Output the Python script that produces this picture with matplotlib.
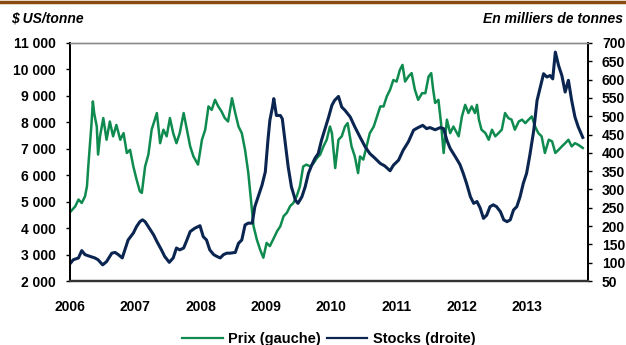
import matplotlib
matplotlib.use("Agg")
import matplotlib.pyplot as plt
from matplotlib.lines import Line2D
from matplotlib.ticker import FuncFormatter

plt.rcParams["font.family"] = ["Liberation Sans", "DejaVu Sans"]
plt.rcParams["font.weight"] = "bold"

# prix du cuivre, $ US/tonne (axe gauche)
prix_t = [
    2006.00, 2006.08, 2006.13, 2006.18, 2006.23, 2006.26, 2006.28, 2006.31, 2006.33, 2006.35,
    2006.37, 2006.41, 2006.43, 2006.46, 2006.51, 2006.56, 2006.61, 2006.66, 2006.71, 2006.77,
    2006.82, 2006.87, 2006.92, 2006.97, 2007.02, 2007.07, 2007.10, 2007.15, 2007.20, 2007.25,
    2007.33, 2007.38, 2007.43, 2007.48, 2007.53, 2007.58, 2007.63, 2007.68, 2007.74, 2007.79,
    2007.84, 2007.89, 2007.96, 2008.02, 2008.07, 2008.12, 2008.17, 2008.22, 2008.27, 2008.32,
    2008.37, 2008.42, 2008.48, 2008.53, 2008.58, 2008.63, 2008.68, 2008.73, 2008.77, 2008.81,
    2008.86, 2008.91, 2008.96, 2009.01, 2009.06, 2009.11, 2009.17, 2009.22, 2009.27, 2009.32,
    2009.37, 2009.42, 2009.47, 2009.52, 2009.57, 2009.62, 2009.68, 2009.73, 2009.78, 2009.83,
    2009.88, 2009.93, 2009.98, 2010.01, 2010.06, 2010.11, 2010.16, 2010.21, 2010.25, 2010.31,
    2010.36, 2010.41, 2010.44, 2010.49, 2010.54, 2010.59, 2010.65, 2010.70, 2010.75, 2010.80,
    2010.85, 2010.90, 2010.95, 2011.00, 2011.05, 2011.09, 2011.13, 2011.18, 2011.23, 2011.28,
    2011.33, 2011.39, 2011.44, 2011.49, 2011.53, 2011.56, 2011.59, 2011.64, 2011.68, 2011.72,
    2011.74, 2011.77, 2011.82, 2011.87, 2011.95, 2012.00, 2012.05, 2012.10, 2012.15, 2012.20,
    2012.23, 2012.26, 2012.30, 2012.36, 2012.41, 2012.46, 2012.51, 2012.56, 2012.61, 2012.66,
    2012.71, 2012.76, 2012.81, 2012.87, 2012.92, 2012.97, 2013.02, 2013.07, 2013.12, 2013.17,
    2013.22, 2013.27, 2013.33, 2013.38, 2013.43, 2013.48, 2013.53, 2013.58, 2013.63, 2013.68,
    2013.73, 2013.78, 2013.85,
]
prix = [
    4600, 4820, 5080, 4950, 5200, 5580, 6330, 7340, 7970, 8790,
    8350, 7840, 6780, 7470, 8160, 7340, 8030, 7470, 7900, 7340,
    7590, 6840, 6960, 6330, 5830, 5390, 5330, 6330, 6780, 7720,
    8350, 7210, 7720, 7470, 8160, 7590, 7210, 7590, 8350, 7720,
    7090, 6710, 6400, 7340, 7720, 8600, 8470, 8850, 8600, 8410,
    8160, 8030, 8910, 8350, 7840, 7590, 6960, 6080, 5080, 4070,
    3570, 3190, 2880, 3440, 3320, 3570, 3880, 4070, 4450, 4580,
    4830, 4950, 5200, 5580, 6330, 6400, 6330, 6460, 6650, 6780,
    7090, 7340, 7840, 7590, 6270, 7340, 7470, 7840, 7970, 7090,
    6710, 6080, 6710, 6590, 7090, 7590, 7840, 8220, 8600, 8600,
    8980, 9230, 9600, 9540, 9980, 10170, 9540, 9730, 9860, 9230,
    8850, 9100, 9100, 9730, 9860, 9230, 8730, 8850, 7970, 6840,
    7340, 8100, 7590, 7840, 7470, 8220, 8660, 8350, 8600, 8350,
    8660, 8100, 7720, 7590, 7340, 7720, 7470, 7590, 7720, 8350,
    8160, 8100, 7720, 8030, 8100, 7970, 8100, 8220, 7840, 7590,
    7470, 6840, 7340, 7280, 6840, 6960, 7090, 7210, 7340, 7090,
    7210, 7150, 7030,
]

# stocks, milliers de tonnes (axe droit)
stocks_t = [
    2006.00, 2006.05, 2006.13, 2006.18, 2006.23, 2006.31, 2006.38, 2006.43, 2006.50, 2006.56,
    2006.64, 2006.69, 2006.74, 2006.80, 2006.84, 2006.89, 2006.97, 2007.02, 2007.07, 2007.11,
    2007.15, 2007.23, 2007.28, 2007.33, 2007.40, 2007.45, 2007.52, 2007.58, 2007.63, 2007.68,
    2007.74, 2007.79, 2007.84, 2007.91, 2007.99, 2008.04, 2008.09, 2008.14, 2008.20, 2008.25,
    2008.30, 2008.35, 2008.40, 2008.45, 2008.53, 2008.58, 2008.63, 2008.68, 2008.73, 2008.79,
    2008.83, 2008.88, 2008.94, 2008.99, 2009.03, 2009.06, 2009.10, 2009.12, 2009.16, 2009.22,
    2009.25, 2009.29, 2009.34, 2009.39, 2009.45, 2009.49, 2009.55, 2009.60, 2009.65, 2009.70,
    2009.75, 2009.80, 2009.85, 2009.905, 2009.96, 2010.01, 2010.05, 2010.11, 2010.16, 2010.21,
    2010.29, 2010.36, 2010.44, 2010.52, 2010.59, 2010.67, 2010.75, 2010.82, 2010.90, 2010.95,
    2011.03, 2011.10, 2011.18, 2011.26, 2011.33, 2011.40, 2011.46, 2011.51, 2011.59, 2011.67,
    2011.72, 2011.77, 2011.82, 2011.90, 2011.97, 2012.02, 2012.07, 2012.13, 2012.18, 2012.23,
    2012.28, 2012.33, 2012.38, 2012.43, 2012.48, 2012.53, 2012.59, 2012.64, 2012.69, 2012.74,
    2012.79, 2012.84, 2012.89, 2012.94, 2012.99, 2013.04, 2013.10, 2013.15, 2013.20, 2013.25,
    2013.30, 2013.35, 2013.39, 2013.43, 2013.48, 2013.53, 2013.58, 2013.63, 2013.68, 2013.73,
    2013.78, 2013.85,
]
stocks = [
    97, 108, 113, 133, 122, 117, 113, 108, 94, 103,
    126, 128, 122, 113, 135, 162, 181, 199, 212, 217,
    212, 190, 176, 158, 135, 117, 101, 113, 140, 135,
    140, 162, 185, 194, 201, 171, 162, 135, 122, 117,
    113, 122, 126, 126, 128, 153, 162, 203, 208, 208,
    253, 280, 312, 348, 434, 489, 525, 548, 502, 502,
    493, 434, 362, 307, 271, 262, 280, 307, 344, 366,
    385, 398, 434, 466, 498, 530, 543, 554, 525, 516,
    498, 471, 443, 416, 398, 385, 371, 364, 351, 366,
    380, 407, 430, 462, 469, 475, 466, 469, 463, 469,
    466, 434, 412, 389, 368, 344, 317, 280, 262, 267,
    249, 221, 230, 253, 258, 253, 239, 217, 212, 217,
    244, 253, 280, 317, 344, 394, 462, 543, 579, 616,
    607, 611, 602, 675, 638, 611, 566, 598, 543, 498,
    471, 442,
]

annees = [2006, 2007, 2008, 2009, 2010, 2011, 2012, 2013]

VERT = "#0f8b4f"
MARINE = "#0b2551"


def milliers(v, pos):
    return "{:,.0f}".format(v).replace(",", " ")


fig = plt.figure(figsize=(6.26, 3.45), dpi=100)
ax1 = fig.add_axes([0.1118, 0.1855, 0.8275, 0.69])
ax2 = ax1.twinx()

ax1.plot(prix_t, prix, color=VERT, lw=1.8, label="Prix (gauche)")
ax2.plot(stocks_t, stocks, color=MARINE, lw=2.2, label="Stocks (droite)")

ax1.set_xlim(2006, 2013.93)
ax1.set_ylim(2000, 11000)
ax2.set_ylim(50, 700)
ax1.set_yticks(range(2000, 11001, 1000))
ax2.set_yticks(range(50, 701, 50))
ax1.yaxis.set_major_formatter(FuncFormatter(milliers))
ax1.set_xticks(annees)
ax1.set_xticklabels([str(a) for a in annees])

ax1.tick_params(axis="x", length=0, pad=14, labelsize=10)
ax1.tick_params(axis="y", length=3, width=1, pad=7, labelsize=10)
ax2.tick_params(axis="y", length=3, width=1, pad=7, labelsize=10)

for ax in (ax1, ax2):
    ax.spines["top"].set_color("#8c8c8c")
    ax.spines["top"].set_linewidth(1)
    ax.spines["bottom"].set_color("#333333")
    ax.spines["bottom"].set_linewidth(1.6)
    ax.spines["left"].set_linewidth(1.3)
    ax.spines["right"].set_linewidth(1.3)

# barre brune en haut
fig.add_artist(Line2D([0, 1], [0.995, 0.995], color="#8a4b10", lw=2.5,
                      transform=fig.transFigure))

fig.text(0.018, 0.945, "$ US/tonne", fontsize=10, fontstyle="italic",
         fontweight="bold", va="center", ha="left")
fig.text(0.995, 0.945, "En milliers de tonnes", fontsize=10, fontstyle="italic",
         fontweight="bold", va="center", ha="right")

handles = [Line2D([], [], color=VERT, lw=1.6), Line2D([], [], color=MARINE, lw=1.6)]
fig.legend(handles, ["Prix (gauche)", "Stocks (droite)"], loc="center",
           bbox_to_anchor=(0.525, 0.018), ncol=2, frameon=False, fontsize=10.5,
           handlelength=2.8, handletextpad=0.35, columnspacing=0.4)

fig.savefig("out.png", dpi=100)
